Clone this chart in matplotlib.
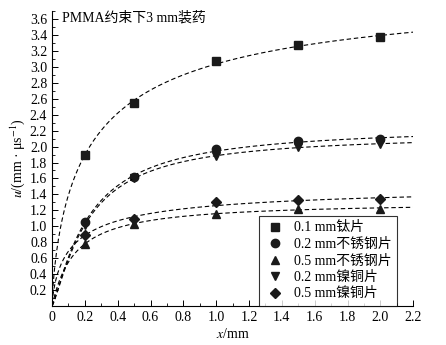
import numpy as np
import matplotlib
matplotlib.use('Agg')
import matplotlib.pyplot as plt
from matplotlib.ticker import MultipleLocator

plt.rcParams['font.family'] = ['Liberation Serif', 'Noto Sans CJK SC']
plt.rcParams['mathtext.fontset'] = 'stix'

x = [0.2, 0.5, 1.0, 1.5, 2.0]
ti_01 = [1.90, 2.55, 3.07, 3.28, 3.37]
ss_02 = [1.05, 1.62, 1.97, 2.07, 2.09]
ss_05 = [0.78, 1.03, 1.16, 1.22, 1.22]
nc_02 = [1.02, 1.60, 1.88, 2.00, 2.03]
nc_05 = [0.89, 1.09, 1.30, 1.33, 1.34]

labels = ['0.1 mm钛片', '0.2 mm不锈钢片', '0.5 mm不锈钢片', '0.2 mm镍铜片', '0.5 mm镍铜片']
markers = ['s', 'o', '^', 'v', 'D']
series = [ti_01, ss_02, ss_05, nc_02, nc_05]

xticks = [0, 0.2, 0.4, 0.6, 0.8, 1.0, 1.2, 1.4, 1.6, 1.8, 2.0, 2.2]
yticks = [0.2, 0.4, 0.6, 0.8, 1.0, 1.2, 1.4, 1.6, 1.8, 2.0, 2.2, 2.4,
          2.6, 2.8, 3.0, 3.2, 3.4, 3.6]


def fit_curve(xs, us):
    # u = a*x^n/(b + x^n), linearised 1/u = (b/a)/x^n + 1/a, grid over n
    xs = np.asarray(xs)
    us = np.asarray(us)
    best = None
    for n in np.linspace(0.3, 1.5, 121):
        k, c = np.polyfit(1 / xs**n, 1 / us, 1)
        a = 1 / c
        b = k * a
        err = np.sum((a * xs**n / (b + xs**n) - us) ** 2)
        if best is None or err < best[0]:
            best = (err, a, b, n)
    _, a, b, n = best
    return lambda t: a * t**n / (b + t**n)


fig = plt.figure(figsize=(4.46, 3.45), dpi=100)
ax = fig.add_axes([0.1166, 0.113, 0.81, 0.855])

xx = np.linspace(0.001, 2.2, 400)
for vals, m, lab in zip(series, markers, labels):
    f = fit_curve(x, vals)
    ax.plot(xx, f(xx), color='black', ls=(0, (4, 2.5)), lw=0.8)
    ms = 5.5 if m == 'D' else 6
    ax.plot(x, vals, ls='none', marker=m, color='#1a1a1a', ms=ms, label=lab)

ax.set_xlim(0, 2.2)
ax.set_ylim(0, 3.7)
ax.set_xticks(xticks)
ax.set_xticklabels(['0' if v == 0 else '%.1f' % v for v in xticks])
ax.xaxis.set_minor_locator(MultipleLocator(0.1))
ax.set_yticks(yticks)
ax.set_yticklabels(['%.1f' % v for v in yticks])
ax.yaxis.set_minor_locator(MultipleLocator(0.1))
ax.tick_params(direction='in', labelsize=10, length=4, width=0.7)
ax.tick_params(which='minor', direction='in', length=2, width=0.6)
for s in ['top', 'right']:
    ax.spines[s].set_visible(False)
for s in ['left', 'bottom']:
    ax.spines[s].set_linewidth(0.8)

ax.set_xlabel('$\\it{x}$/mm', fontsize=10, labelpad=2)
ax.set_ylabel('$\\it{u}$/(mm · μs$^{-1}$)', fontsize=10, labelpad=2)
ax.text(0.06, 3.62, 'PMMA约束下3 mm装药', fontsize=10, va='center')

leg = ax.legend(loc='lower left', bbox_to_anchor=(0.573, 0.0, 0.383, 0.31),
                mode='expand', fontsize=10, frameon=True, fancybox=False,
                handletextpad=0.6, borderaxespad=0, labelspacing=0.25,
                handlelength=1.5)
leg.get_frame().set_edgecolor('black')
leg.get_frame().set_linewidth(0.8)

fig.savefig('out.png', dpi=100)
